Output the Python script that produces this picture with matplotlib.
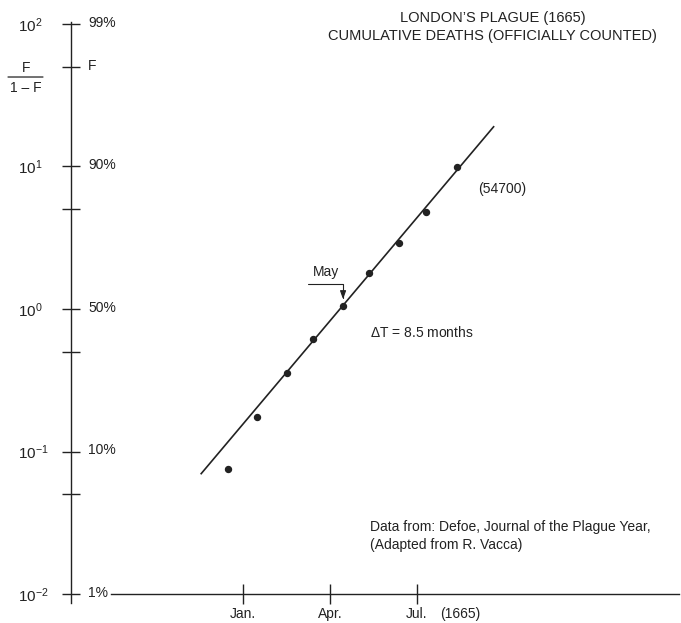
import matplotlib
matplotlib.use('Agg')
import matplotlib.pyplot as plt
from matplotlib.ticker import FixedLocator, NullFormatter

plt.rcParams['font.family'] = ['Liberation Sans', 'DejaVu Sans']
plt.rcParams['mathtext.fontset'] = 'custom'
plt.rcParams['mathtext.rm'] = 'Liberation Sans'
plt.rcParams['mathtext.it'] = 'Liberation Sans'
plt.rcParams['mathtext.bf'] = 'Liberation Sans:bold'

ink = '#222222'

# months counted from Jan. 1665 = 0 ; y is F/(1-F)
months = [-0.51, 0.47, 1.51, 2.42, 3.46, 4.36, 5.38, 6.31, 7.37]
ratio = [0.0757, 0.174, 0.354, 0.613, 1.05, 1.78, 2.89, 4.77, 9.97]

fit_months = [-1.46, 8.66]
fit_ratio = [0.0692, 19.2]

month_ticks = [0, 3, 6]
month_labels = ['Jan.', 'Apr.', 'Jul.']

ratio_ticks = [0.01, 0.1, 1, 10, 100]
ratio_labels = [r'$10^{-2}$', r'$10^{-1}$', r'$10^{0}$', r'$10^{1}$', r'$10^{2}$']
minor_ticks = [0.05, 0.5, 5, 50]
pct_ticks = [0.01, 0.1, 1, 10, 50, 100]
pct_labels = ['1%', '10%', '50%', '90%', 'F', '99%']

may_month, may_ratio = 3.45, 1.17

fig = plt.figure(figsize=(6.81, 6.23), dpi=100)
ax = fig.add_axes([0, 0, 1, 1])
ax.set_facecolor('white')
ax.set_yscale('log')
ax.set_xlim(-8.379, 15.103)
ax.set_ylim(10 ** -2.2035, 10 ** 2.1684)

y_axis_x = -5.931
for s in ['top', 'right']:
    ax.spines[s].set_visible(False)
ax.spines['left'].set_position(('data', y_axis_x))
ax.spines['left'].set_bounds(10 ** -2.063, 10 ** 2.014)
ax.spines['bottom'].set_position(('data', 0.01))
ax.spines['bottom'].set_bounds(-4.55, 15.05)
for s in ['left', 'bottom']:
    ax.spines[s].set_color(ink)
    ax.spines[s].set_linewidth(1.0)

ax.set_xticks(month_ticks, month_labels)
ax.tick_params(axis='x', direction='inout', length=14.4, width=1.0, color=ink,
               labelsize=10, labelcolor=ink, pad=2.5)

ax.set_yticks(ratio_ticks, ratio_labels)
ax.yaxis.set_minor_locator(FixedLocator(minor_ticks))
ax.yaxis.set_minor_formatter(NullFormatter())
ax.tick_params(axis='y', which='both', direction='inout', length=13.5, width=1.0,
               color=ink, labelsize=11, labelcolor=ink, pad=31.5)
for lbl in ax.get_yticklabels():
    lbl.set_horizontalalignment('left')

for v, lbl in zip(pct_ticks, pct_labels):
    ax.annotate(lbl, xy=(y_axis_x, v), xytext=(12.2, 1), textcoords='offset points',
                ha='left', va='center', fontsize=10, color=ink)

ax.annotate('(1665)', xy=(6.79, 0.01), xytext=(0, -9.7), textcoords='offset points',
            ha='left', va='top', fontsize=10, color=ink)

# F/(1-F) axis label
ax.text(-7.483, 10 ** 1.691, 'F', ha='center', va='center', fontsize=10, color=ink)
ax.annotate('', xy=(-6.897, 10 ** 1.628), xytext=(-8.103, 10 ** 1.628),
            arrowprops=dict(arrowstyle='-', color=ink, lw=0.9, shrinkA=0, shrinkB=0))
ax.text(-7.483, 10 ** 1.551, '1 \u2013 F', ha='center', va='center', fontsize=10,
        color=ink)

ax.plot(fit_months, fit_ratio, color=ink, lw=1.2, solid_capstyle='butt')
ax.plot(months, ratio, 'o', color=ink, ms=4.3, mec=ink)

ax.annotate('', xy=(may_month, may_ratio), xytext=(2.24, 1.497),
            arrowprops=dict(arrowstyle='-|>,head_length=0.5,head_width=0.18',
                            color=ink, lw=0.8,
                            connectionstyle='angle,angleA=0,angleB=90,rad=0',
                            shrinkA=0, shrinkB=0))
ax.text(2.86, 1.82, 'May', ha='center', va='center', fontsize=10, color=ink)

ax.text(8.10, 6.95, '(54700)', ha='left', va='center', fontsize=10, color=ink)
ax.text(4.38, 0.679, r'$\Delta$T = 8.5 months', ha='left', va='center',
        fontsize=10, color=ink)
ax.text(4.38, 0.0295, 'Data from: Defoe, Journal of the Plague Year,', ha='left',
        va='center', fontsize=10, color=ink)
ax.text(4.38, 0.0221, '(Adapted from R. Vacca)', ha='left', va='center',
        fontsize=10, color=ink)

ax.text(8.60, 10 ** 2.039, "LONDON\u2019S PLAGUE (1665)", ha='center', va='center',
        fontsize=10.5, color=ink)
ax.text(8.60, 10 ** 1.916, 'CUMULATIVE DEATHS (OFFICIALLY COUNTED)', ha='center',
        va='center', fontsize=10.5, color=ink)

fig.savefig('out.png', dpi=100, facecolor='white')
